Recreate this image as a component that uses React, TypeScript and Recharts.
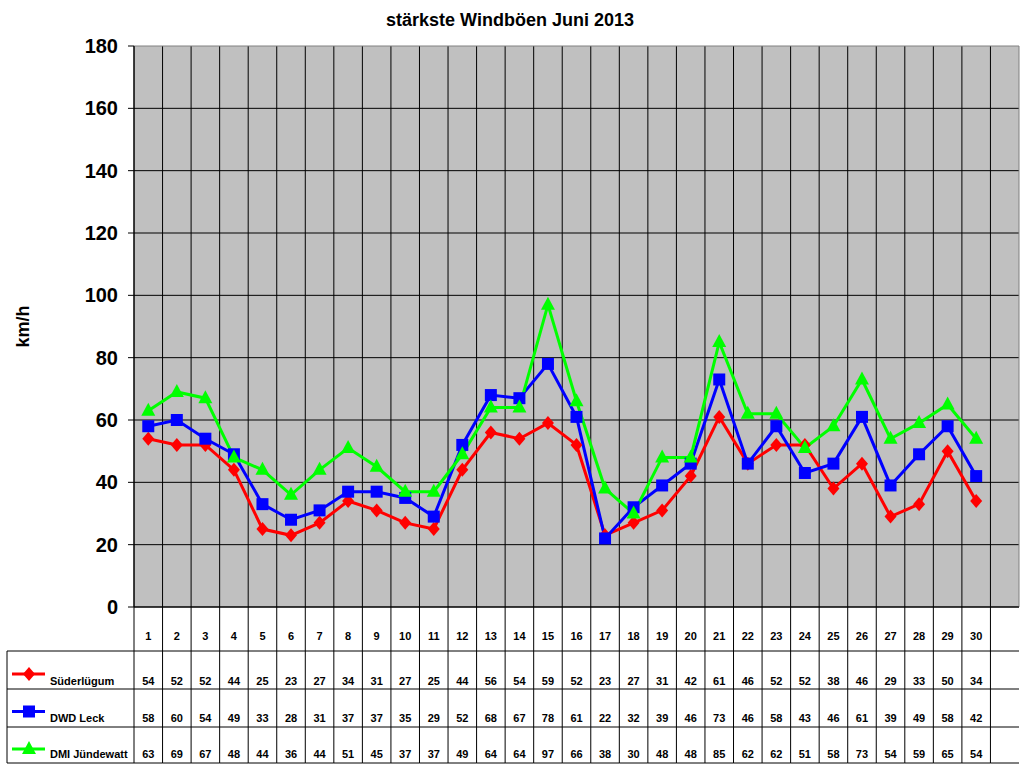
import React from "react";
import {
    ComposedChart,
    Line,
    XAxis,
    YAxis,
    CartesianGrid,
    Label,
} from "recharts";

// June 2013, last column of the Excel template stays empty
const days = [
    "1", "2", "3", "4", "5", "6", "7", "8", "9", "10",
    "11", "12", "13", "14", "15", "16", "17", "18", "19", "20",
    "21", "22", "23", "24", "25", "26", "27", "28", "29", "30", "",
];
const suederluegum = [
    54, 52, 52, 44, 25, 23, 27, 34, 31, 27, 25, 44, 56, 54, 59,
    52, 23, 27, 31, 42, 61, 46, 52, 52, 38, 46, 29, 33, 50, 34, null,
];
const dwdLeck = [
    58, 60, 54, 49, 33, 28, 31, 37, 37, 35, 29, 52, 68, 67, 78,
    61, 22, 32, 39, 46, 73, 46, 58, 43, 46, 61, 39, 49, 58, 42, null,
];
const dmiJuendewatt = [
    63, 69, 67, 48, 44, 36, 44, 51, 45, 37, 37, 49, 64, 64, 97,
    66, 38, 30, 48, 48, 85, 62, 62, 51, 58, 73, 54, 59, 65, 54, null,
];
const yTicks = [0, 20, 40, 60, 80, 100, 120, 140, 160, 180];

const seriesNames = ["Süderlügum", "DWD Leck", "DMI Jündewatt"];
const seriesColors = ["#FF0000", "#0000FF", "#00FF00"];
const seriesValues = [suederluegum, dwdLeck, dmiJuendewatt];

const data = days.map((day, i) => ({
    day,
    s: suederluegum[i],
    d: dwdLeck[i],
    j: dmiJuendewatt[i],
}));

const FONT = "'Liberation Sans', Arial, sans-serif";

const Marker = ({ kind, cx, cy }: { kind: number; cx: number; cy: number }) => {
    if (kind === 0) {
        return (
            <polygon
                points={`${cx},${cy - 7} ${cx + 6},${cy} ${cx},${cy + 7} ${cx - 6},${cy}`}
                fill={seriesColors[0]}
            />
        );
    }
    if (kind === 1) {
        return <rect x={cx - 6} y={cy - 6} width={12} height={12} fill={seriesColors[1]} />;
    }
    return (
        <polygon
            points={`${cx},${cy - 8} ${cx + 7},${cy + 5} ${cx - 7},${cy + 5}`}
            fill={seriesColors[2]}
        />
    );
};

const makeDot = (kind: number) => (props: any) => {
    const { cx, cy, index } = props;
    if (cx == null || cy == null || props.value == null) return <g key={`e-${kind}-${index}`} />;
    return (
        <g key={`m-${kind}-${index}`}>
            <Marker kind={kind} cx={cx} cy={cy} />
        </g>
    );
};

// one column of the data table under the plot
const TableTick = (props: any) => {
    const { x, y, payload, index, width } = props;
    const half = payload?.offset || width / days.length / 2;
    const i = index ?? payload?.index ?? 0;
    const left = x - half;
    const right = x + half;
    const rows = [44, 82, 120, 156];
    const baselines = [78, 115, 151];
    const last = i === days.length - 1;
    const txt = { fontFamily: FONT, fontSize: 11, fontWeight: 700, fill: "#000" } as const;

    return (
        <g>
            {rows.map((r) => (
                <line key={r} x1={left} x2={right} y1={y + r} y2={y + r} stroke="#000" strokeWidth={1} />
            ))}
            {!last && (
                <line x1={right} x2={right} y1={y} y2={y + 156} stroke="#000" strokeWidth={1} />
            )}
            {i === 0 && (
                <g>
                    <line x1={left} x2={left} y1={y} y2={y + 156} stroke="#000" strokeWidth={1} />
                    <line x1={7} x2={7} y1={y + 44} y2={y + 156} stroke="#000" strokeWidth={1} />
                    {rows.map((r) => (
                        <line key={`l${r}`} x1={7} x2={left} y1={y + r} y2={y + r} stroke="#000" strokeWidth={1} />
                    ))}
                    {seriesNames.map((name, k) => {
                        const my = y + 67 + k * 37.5;
                        return (
                            <g key={name}>
                                <line x1={12} x2={45} y1={my} y2={my} stroke={seriesColors[k]} strokeWidth={3} />
                                <Marker kind={k} cx={29} cy={my} />
                                <text x={50} y={y + baselines[k]} {...txt}>
                                    {name}
                                </text>
                            </g>
                        );
                    })}
                </g>
            )}
            {!last && (
                <text x={x} y={y + 33} textAnchor="middle" {...txt}>
                    {payload.value}
                </text>
            )}
            {!last &&
                seriesValues.map((vals, k) => (
                    <text key={k} x={x} y={y + baselines[k]} textAnchor="middle" {...txt}>
                        {vals[i]}
                    </text>
                ))}
        </g>
    );
};

export default function App() {
    return (
        <div style={{ position: "absolute", left: 0, top: 0, width: 1024, height: 768, background: "#fff" }}>
            <div
                style={{
                    position: "absolute",
                    left: 0,
                    width: 1020,
                    top: 10,
                    textAlign: "center",
                    fontFamily: FONT,
                    fontWeight: 700,
                    fontSize: 18,
                    lineHeight: "20px",
                }}
            >
                stärkste Windböen Juni 2013
            </div>
            <ComposedChart
                width={1024}
                height={768}
                data={data}
                margin={{ top: 46, right: 5, left: 0, bottom: 0 }}
            >
                <CartesianGrid
                    stroke="#000"
                    strokeWidth={1}
                    fill="#C0C0C0"
                    fillOpacity={1}
                    horizontalCoordinatesGenerator={({ offset }: any) =>
                        yTicks.slice(0, -1).map((t) => offset.top + offset.height * (1 - t / 180))
                    }
                    verticalCoordinatesGenerator={({ offset, width }: any) => {
                        const l = offset.left;
                        const w = offset.width ?? width - offset.left - offset.right;
                        return days.map((_, i) => l + (w * i) / days.length);
                    }}
                />
                {/* grey plot-area frame at top and right, as in Excel */}
                <CartesianGrid
                    stroke="#808080"
                    strokeWidth={1}
                    fill="none"
                    horizontalCoordinatesGenerator={({ offset }: any) => [offset.top]}
                    verticalCoordinatesGenerator={({ offset }: any) => [offset.left + offset.width]}
                />
                <XAxis
                    dataKey="day"
                    scale="band"
                    interval={0}
                    height={161}
                    tickSize={0}
                    tickMargin={0}
                    axisLine={{ stroke: "#000" }}
                    tickLine={false}
                    tick={(p: any) => <TableTick {...p} />}
                />
                <YAxis
                    width={134}
                    domain={[0, 180]}
                    ticks={yTicks}
                    interval={0}
                    tickSize={6}
                    tickMargin={10}
                    axisLine={{ stroke: "#000" }}
                    tickLine={{ stroke: "#000" }}
                    tick={{ fontSize: 20, fontWeight: 700, fill: "#000", fontFamily: FONT }}
                >
                    <Label
                        content={({ viewBox }: any) => {
                            const cy = viewBox.y + viewBox.height / 2;
                            return (
                                <text
                                    x={29}
                                    y={cy}
                                    transform={`rotate(-90 29 ${cy})`}
                                    textAnchor="middle"
                                    fontFamily={FONT}
                                    fontSize={18}
                                    fontWeight={700}
                                    fill="#000"
                                >
                                    km/h
                                </text>
                            );
                        }}
                    />
                </YAxis>
                <Line
                    dataKey="s"
                    name={seriesNames[0]}
                    stroke={seriesColors[0]}
                    strokeWidth={3}
                    dot={makeDot(0)}
                    activeDot={false}
                    isAnimationActive={false}
                />
                <Line
                    dataKey="d"
                    name={seriesNames[1]}
                    stroke={seriesColors[1]}
                    strokeWidth={3}
                    dot={makeDot(1)}
                    activeDot={false}
                    isAnimationActive={false}
                />
                <Line
                    dataKey="j"
                    name={seriesNames[2]}
                    stroke={seriesColors[2]}
                    strokeWidth={3}
                    dot={makeDot(2)}
                    activeDot={false}
                    isAnimationActive={false}
                />
            </ComposedChart>
        </div>
    );
}
